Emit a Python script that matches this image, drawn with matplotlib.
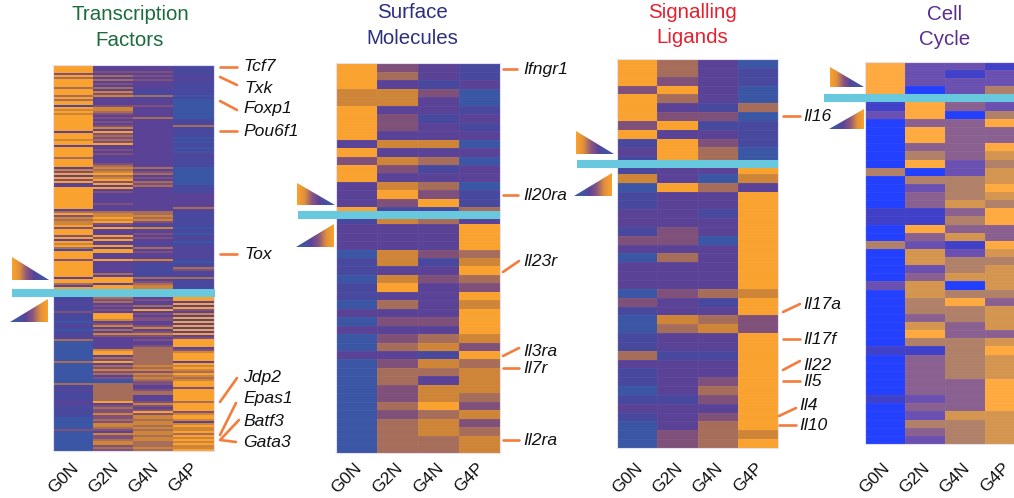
import numpy as np
import matplotlib
matplotlib.use("Agg")
import matplotlib.pyplot as plt
from matplotlib.colors import ListedColormap, LinearSegmentedColormap
from matplotlib.patches import Polygon
from matplotlib.transforms import ScaledTranslation

plt.rcParams['font.family'] = ['Liberation Sans', 'DejaVu Sans']

SAMPLES = ["G0N", "G2N", "G4N", "G4P"]

# Expression level (0 = low ... 6 = high), one digit per gene, per sample.
TF_G0N = ("6666364666 6466646466 1656566666 6662666566 2666664666 6253626362 2666666666 6624635455 "
          "6366636265 6416666366 6666662664 2622221112 1113111101 2101121400 0000000040 0000000004 "
          "1121111122 1111110000 0030000000 000")
TF_G2N = ("2223242423 2425352222 3554323232 3526343436 2232322223 4545645636 2623222223 2224556563 "
          "2622263622 6266222622 2222426662 6666664342 3232666523 5242532222 2256624362 4353423004 "
          "4444444462 3433533435 5432533455 343")
TF_G4N = ("2223232322 2211141222 3222224222 2222222222 2222222222 2423423243 4222222222 2224454532 "
          "1522323221 2423222521 1111114234 5555552322 4262323322 3523532322 3444444444 5453545433 "
          "2234422235 3236355455 4545545544 454")
TF_G4P = ("1111121211 1111101000 0000000111 4111110101 1010211111 1000000000 1111222222 2421111111 "
          "1011012101 1212121101 1431214111 1111116626 2632526162 6162623666 6235666626 5654654566 "
          "6366666646 6663566525 6556465656 556")

SM_G0N = [6,6,6,5,5,6,6,6,6,2,6,3,6,6,2,2,2,6,1,2,2,2,0,1,1,0,1,1,0,2,0,2,0,0,2,0,0,0,0,0,0,0,0,0,0,0]
SM_G2N = [3,4,2,5,5,2,3,3,2,5,2,5,3,2,5,6,3,1,5,2,2,2,5,5,2,5,6,2,4,2,3,2,3,4,2,3,4,4,3,3,4,3,4,4,4,4]
SM_G4N = [2,2,1,3,2,2,1,2,2,5,2,4,1,2,4,3,6,1,4,2,2,2,3,1,2,3,2,2,2,2,3,2,4,5,1,5,4,2,5,5,6,4,5,5,4,4]
SM_G4P = [1,1,2,0,0,1,2,1,2,0,2,0,2,2,0,1,1,4,2,6,6,6,4,5,6,4,3,6,5,6,6,6,5,3,6,4,5,5,5,4,3,5,3,4,5,5]

SL_G0N = [6,6,6,3,6,6,6,3,6,1,2,1,1,5,0,1,1,2,2,1,3,2,0,2,2,2,0,3,1,0,0,1,1,4,2,1,1,0,1,2,1,0,0,0]
SL_G2N = [4,4,3,6,4,2,3,6,2,6,6,6,2,2,6,2,2,2,2,3,3,2,4,2,2,2,3,2,2,5,4,2,2,1,2,2,2,2,1,2,2,2,3,3]
SL_G4N = [2,2,2,2,2,1,3,1,2,3,4,4,2,0,4,2,2,1,2,2,0,2,2,2,2,2,4,1,2,4,5,2,2,1,2,2,3,4,3,2,3,4,4,4]
SL_G4P = [0,1,1,0,0,4,0,1,1,1,0,0,6,5,2,6,6,6,6,6,6,6,6,6,6,6,5,6,6,3,3,6,6,6,6,6,6,6,6,6,6,6,5,6]

CC_G0N = [6,6,6,6,1,1,2,0,0,0,0,0,0,4,0,0,0,0,1,1,0,0,4,0,0,0,0,2,0,0,0,0,0,0,0,1,0,0,0,0,0,1,0,0,0,0,0]
CC_G2N = [2,2,2,0,6,6,6,3,6,6,3,4,6,0,4,2,3,3,1,1,6,3,2,5,5,2,3,5,5,4,4,3,5,6,4,1,3,3,3,3,3,2,3,2,4,3,2]
CC_G4N = [2,1,2,2,3,3,0,3,3,3,3,3,2,2,4,4,4,5,3,4,3,5,1,2,4,4,5,0,4,6,4,4,3,3,4,4,4,4,4,3,3,3,3,5,4,4,4]
CC_G4P = [1,2,2,4,2,2,4,6,3,3,6,5,4,5,5,6,5,4,6,6,3,3,6,5,4,5,5,5,4,3,5,5,5,3,5,6,5,5,5,6,6,6,6,5,5,5,5]

TITLES = ["Transcription\nFactors", "Surface\nMolecules", "Signalling\nLigands", "Cell\nCycle"]
TF_GENES = ["Tcf7", "Txk", "Foxp1", "Pou6f1", "Tox", "Jdp2", "Epas1", "Batf3", "Gata3"]
SM_GENES = ["Ifngr1", "Il20ra", "Il23r", "Il3ra", "Il7r", "Il2ra"]
SL_GENES = ["Il16", "Il17a", "Il17f", "Il22", "Il5", "Il4", "Il10"]


def digits(s):
    return [int(c) for c in s if c != " "]


def stack(*cols):
    return np.array(cols, dtype=float).T


W, H = 1014, 498
fig = plt.figure(figsize=(W / 100, H / 100), dpi=100, facecolor="white")

CMAP_A = ListedColormap(["#3A56A4", "#47489E", "#5A4297", "#7F5079", "#A66D5A", "#CE8537", "#FAA22F"])
CMAP_B = ListedColormap(["#2440FF", "#4040C8", "#6A50B0", "#8A6090", "#B08068", "#D49550", "#FFAA40"])


def panel(data, box, cmap, sep):
    x0, y0, x1, y1 = box
    ax = fig.add_axes([x0 / W, 1 - y1 / H, (x1 - x0) / W, (y1 - y0) / H])
    kw = dict(edgecolor=(1, 1, 1, 0.04), linewidth=0.5) if sep else {}
    ax.pcolormesh(data, cmap=cmap, vmin=-0.5, vmax=6.5, **kw)
    ax.set_ylim(data.shape[0], 0)
    ax.set_yticks([])
    ax.set_xticks(np.arange(4) + 0.5)
    ax.set_xticklabels(SAMPLES, rotation=45, ha="center", va="top", fontsize=12.5, color="#111111")
    ax.tick_params(axis="x", length=0, pad=(460 - y1) * 0.72)
    shift = ScaledTranslation(-10 / 100, 0, fig.dpi_scale_trans)
    for lab in ax.get_xticklabels():
        lab.set_transform(lab.get_transform() + shift)
    for s in ax.spines.values():
        s.set_color("#E4E0EE")
        s.set_linewidth(0.8)
    return ax


panel(stack(digits(TF_G0N), digits(TF_G2N), digits(TF_G4N), digits(TF_G4P)), (53, 65, 213.5, 451), CMAP_A, False)
panel(stack(SM_G0N, SM_G2N, SM_G4N, SM_G4P), (336, 63.5, 500, 452.5), CMAP_A, True)
panel(stack(SL_G0N, SL_G2N, SL_G4N, SL_G4P), (617, 59, 778, 448), CMAP_A, True)
panel(stack(CC_G0N, CC_G2N, CC_G4N, CC_G4P), (865, 62, 1025, 444), CMAP_B, True)

ov = fig.add_axes([0, 0, 1, 1], zorder=5)
ov.patch.set_alpha(0)
ov.axis("off")

GRAD = LinearSegmentedColormap.from_list("g", ["#FBA22E", "#E0903A", "#8A5580", "#5A4498", "#3F55A5", "#3F55A5"])
grad = np.linspace(0, 1, 128)[None, :]


def triangle(pts, reverse):
    xs = [p[0] for p in pts]
    ys = [p[1] for p in pts]
    im = ov.imshow(grad[:, ::-1] if reverse else grad, cmap=GRAD, aspect="auto",
                   extent=(min(xs), max(xs), max(ys), min(ys)), zorder=3)
    poly = Polygon(pts, closed=True, transform=ov.transData, fc="none", ec="none")
    ov.add_patch(poly)
    im.set_clip_path(poly)


for top, bot, bar in [
    ([(12, 257), (12, 280), (49, 280)], [(10, 322), (48, 322), (48, 299)], (12, 215, 293.3)),
    ([(297, 183), (297, 205), (335, 205)], [(296, 247), (334, 247), (334, 224)], (298, 500, 215)),
    ([(576, 131), (576, 154), (614, 154)], [(574, 196), (612, 196), (612, 173)], (577, 778, 164)),
    ([(830, 67), (830, 87), (864, 87)], [(829, 129), (864, 129), (864, 109)], (824, 1014, 98)),
]:
    triangle(top, False)
    triangle(bot, True)
    ov.plot([bar[0], bar[1]], [bar[2], bar[2]], color="#68C8DE", lw=5.8, solid_capstyle="butt", zorder=4)

ov.set_xlim(0, W)
ov.set_ylim(H, 0)

for label, cx, ys, col in [
    (TITLES[0], 130, (14, 40), "#1C6B3C"),
    (TITLES[1], 412, (12, 38), "#2C2F80"),
    (TITLES[2], 692, (12, 37), "#E5202E"),
    (TITLES[3], 945, (14, 39), "#5B2C91"),
]:
    for part, y in zip(label.split("\n"), ys):
        ov.text(cx, y, part, color=col, fontsize=14.8, ha="center", va="center")

LEADERS = [
    (TF_GENES[0], (220, 66.7), (237, 66.7), (243, 66)),
    (TF_GENES[1], (220, 77), (237, 85), (244, 88)),
    (TF_GENES[2], (220, 101), (237, 110), (243, 108)),
    (TF_GENES[3], (220, 131), (237, 131), (243, 131)),
    (TF_GENES[4], (220, 254), (237, 254), (244, 254)),
    (TF_GENES[5], (220, 402), (237, 378), (243, 377)),
    (TF_GENES[6], (220, 435), (236, 403), (243, 398)),
    (TF_GENES[7], (221, 439), (239, 420), (243, 421)),
    (TF_GENES[8], (220, 440), (236, 442), (243, 442)),
    (SM_GENES[0], (503, 69), (517, 69), (523, 69)),
    (SM_GENES[1], (503, 195), (518, 195), (523, 195)),
    (SM_GENES[2], (503, 272), (519, 261), (523, 261)),
    (SM_GENES[3], (503, 356), (519, 348), (523, 351)),
    (SM_GENES[4], (503, 368), (519, 368), (523, 368)),
    (SM_GENES[5], (503, 440), (519, 440), (523, 440)),
    (SL_GENES[0], (783, 116), (800, 116), (803, 116)),
    (SL_GENES[1], (783, 312), (800, 304), (803, 304)),
    (SL_GENES[2], (783, 339), (800, 339), (803, 339)),
    (SL_GENES[3], (783, 370), (800, 361), (803, 365)),
    (SL_GENES[4], (783, 381), (800, 381), (803, 381)),
    (SL_GENES[5], (779, 416), (796, 408), (799, 405)),
    (SL_GENES[6], (779, 425), (796, 425), (799, 425)),
]
for name, a, b, t in LEADERS:
    ov.plot([a[0], b[0]], [a[1], b[1]], color="#F47C3C", lw=1.9, solid_capstyle="round", zorder=4)
    ov.text(t[0], t[1], name, style="italic", fontsize=12.6, color="#111111", ha="left", va="center")

fig.savefig("out.png", dpi=100, facecolor="white")
